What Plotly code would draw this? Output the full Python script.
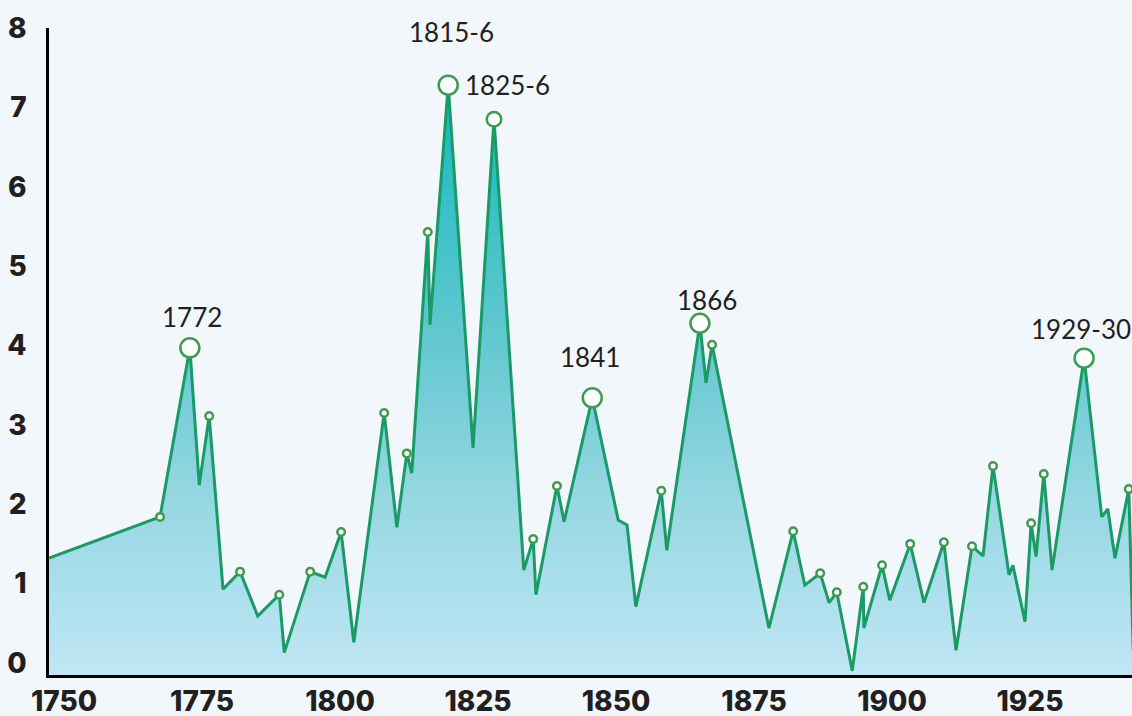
import plotly.graph_objects as go

# ---- data ----
years = [
    1747.3, 1767.4, 1772.8, 1774.5, 1776.3, 1778.8, 1781.9, 1785.1, 1789.0, 1789.9,
    1794.6, 1797.3, 1800.2, 1802.5, 1808.0, 1810.3, 1812.1, 1813.0, 1815.9, 1816.3,
    1819.6, 1824.1, 1827.9, 1833.3, 1835.0, 1835.5, 1839.3, 1840.6, 1845.7, 1850.4,
    1852.0, 1853.6, 1858.2, 1859.2, 1865.2, 1866.3, 1867.4, 1877.7, 1882.1, 1884.2,
    1887.0, 1888.6, 1890.0, 1892.8, 1894.8, 1894.9, 1898.2, 1899.6, 1903.3, 1905.8,
    1909.4, 1911.6, 1914.5, 1916.5, 1918.3, 1921.2, 1921.9, 1924.1, 1925.2, 1926.1,
    1927.5, 1929.0, 1934.8, 1938.0, 1939.1, 1940.4, 1942.9, 1943.7,
]
values = [
    1.32, 1.84, 3.97, 2.24, 3.11, 0.93, 1.15, 0.59, 0.86, 0.13,
    1.15, 1.08, 1.65, 0.26, 3.15, 1.71, 2.64, 2.39, 5.43, 4.26,
    7.28, 2.71, 6.85, 1.17, 1.56, 0.86, 2.23, 1.78, 3.34, 1.80,
    1.74, 0.71, 2.17, 1.42, 4.28, 3.53, 4.01, 0.44, 1.66, 0.98,
    1.13, 0.76, 0.89, -0.10, 0.96, 0.44, 1.23, 0.79, 1.50, 0.76,
    1.52, 0.16, 1.47, 1.35, 2.48, 1.11, 1.23, 0.52, 1.76, 1.34,
    2.38, 1.17, 3.84, 1.84, 1.94, 1.32, 2.19, 0.16,
]
small_years = [
    1767.4, 1776.3, 1781.9, 1789.0, 1794.6, 1800.2, 1808.0, 1812.1, 1815.9,
    1835.0, 1839.3, 1858.2, 1867.4, 1882.1, 1887.0, 1890.0, 1894.8, 1898.2,
    1903.3, 1909.4, 1914.5, 1918.3, 1925.2, 1927.5, 1942.9,
]
medium_years = [1827.9]
big_years = [1772.8, 1819.6, 1845.7, 1865.2, 1934.8]
big_labels = ["1772", "1815-6", "1841", "1866", "1929-30"]
side_label = "1825-6"
side_label_year = 1819.6
x_ticks = [1750, 1775, 1800, 1825, 1850, 1875, 1900, 1925]
y_ticks = [0, 1, 2, 3, 4, 5, 6, 7, 8]

# ---- styling ----
BG = "#f2f7fc"
LINE = "#1a9b66"
MARK = "#3f9b4f"
TEXT = "#231f20"
X_RANGE = [1747.28, 1943.48]
Y_RANGE = [-0.152, 8.0]
label_shifts = [(2, 31), (3, 53), (-2, 41), (7, 23), (-3, 29)]

lookup = dict(zip(years, values))

fig = go.Figure()

# baseline so the fill reaches the x-axis line
fig.add_trace(go.Scatter(
    x=[years[0], years[-1]], y=[Y_RANGE[0], Y_RANGE[0]],
    mode="lines", line=dict(width=0), showlegend=False, hoverinfo="skip",
))

fig.add_trace(go.Scatter(
    x=years, y=values, mode="lines",
    line=dict(color=LINE, width=3),
    fill="tonexty",
    fillgradient=dict(
        type="vertical",
        start=Y_RANGE[0], stop=7.3,
        colorscale=[[0, "#c0e6f5"], [0.3, "#95d7e2"], [0.55, "#66c8d1"], [1, "#12b9bc"]],
    ),
    showlegend=False,
))

def add_markers(xs, size):
    fig.add_trace(go.Scatter(
        x=xs, y=[lookup[x] for x in xs], mode="markers",
        marker=dict(size=size, color="white", line=dict(color=MARK, width=2.5)),
        showlegend=False, cliponaxis=False,
    ))

add_markers(small_years, 7.5)
add_markers(medium_years, 14.5)
add_markers(big_years, 19)

for yr, lab, (dx, dy) in zip(big_years, big_labels, label_shifts):
    fig.add_annotation(
        x=yr, y=lookup[yr], text=lab, showarrow=False,
        xshift=dx, yshift=dy,
        font=dict(family="Lato", size=26, color=TEXT),
    )
fig.add_annotation(
    x=side_label_year, y=lookup[side_label_year], text=side_label, showarrow=False,
    xanchor="left", xshift=15, yshift=0,
    font=dict(family="Lato", size=26, color=TEXT),
)

axis_font = dict(family="Inter", size=28, color=TEXT, weight=800)
fig.update_layout(
    width=1132, height=716,
    margin=dict(l=49, r=0, t=28, b=41, autoexpand=False),
    paper_bgcolor=BG, plot_bgcolor=BG,
    showlegend=False,
    xaxis=dict(
        range=X_RANGE, tickvals=x_ticks, showgrid=False, zeroline=False,
        showline=True, linecolor="black", linewidth=2.5, automargin=False,
        tickfont=axis_font, ticks="", ticklabelstandoff=0,
    ),
    yaxis=dict(
        range=Y_RANGE, tickvals=y_ticks, showgrid=False, zeroline=False,
        showline=True, linecolor="black", linewidth=2.5, automargin=False,
        tickfont=axis_font, ticks="", ticklabelstandoff=14,
    ),
)

# remove the default 8px page margin so the figure fills the window exactly
page_css = (
    "document.body.style.margin='0';"
    "document.body.style.overflow='hidden';"
    "document.body.style.background='" + BG + "';"
)
fig.write_html("out.html", post_script=page_css, config={"displayModeBar": False})
